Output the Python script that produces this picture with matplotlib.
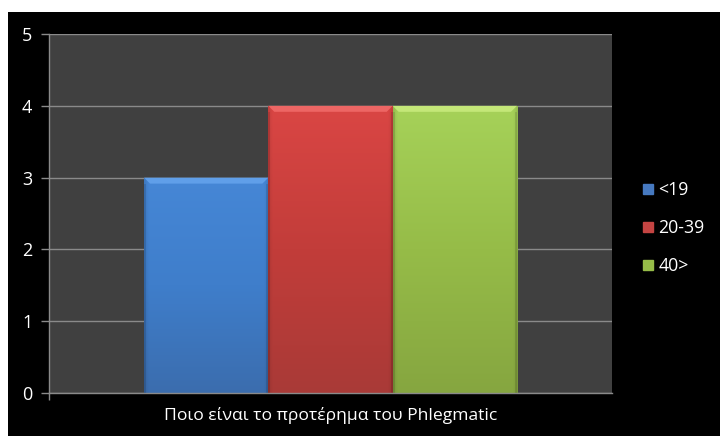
import numpy as np
import matplotlib
matplotlib.use("Agg")
import matplotlib.pyplot as plt
from matplotlib.patches import Rectangle, Polygon
from matplotlib.lines import Line2D
from matplotlib.colors import to_rgb

# ---- data ----
category = "Ποιο είναι το προτέρημα του Phlegmatic"
series_names = ["<19", "20-39", "40>"]
series_values = [3, 4, 4]
y_ticks = [0, 1, 2, 3, 4, 5]

# styles
top_colors = ["#4687d6", "#da4644", "#a6d259"]
mid_colors = ["#3f7ecb", "#c23d3a", "#96bc48"]
bot_colors = ["#3b6dae", "#a93a37", "#86a640"]
bevel_colors = ["#64a2ec", "#f06a68", "#c8ea7c"]
legend_colors = ["#4679c0", "#c44442", "#96bc48"]

plt.rcParams['font.family'] = ['Open Sans', 'DejaVu Sans']

W, H = 720, 436
fig = plt.figure(figsize=(W / 100, H / 100), dpi=100, facecolor="white")
fig.patches.append(Rectangle((8 / W, 0), 1 - 8 / W, (H - 12) / H,
                             transform=fig.transFigure, facecolor="black",
                             edgecolor="none", zorder=-10))

left, right, top, bottom = 49, 612, 34, 393
ax = fig.add_axes([left / W, (H - bottom) / H, (right - left) / W, (bottom - top) / H])
ax.set_zorder(1)
ax.set_facecolor("#404040")

n = len(series_values)
bw = 124.3 / (right - left)
offsets = (np.arange(n) - (n - 1) / 2) * bw

px_x = 1.0 / (right - left)
px_y = 5.0 / (bottom - top)

bars = ax.bar(offsets, series_values, width=bw, color=mid_colors, zorder=3,
              edgecolor="none")
for i, b in enumerate(bars):
    x0, y0 = b.get_x(), b.get_y()
    w, h = b.get_width(), b.get_height()
    t, m, bo = np.array(to_rgb(top_colors[i])), np.array(to_rgb(mid_colors[i])), np.array(to_rgb(bot_colors[i]))
    ny = 200
    s = np.linspace(0, 1, ny)[:, None]  # 0 top -> 1 bottom
    col = np.where(s < 0.5, t + (m - t) * (s / 0.5), m + (bo - m) * ((s - 0.5) / 0.5))
    nx = 60
    xs = np.linspace(0, 1, nx)[None, :]
    edge = 1 - 0.10 * (np.clip(1 - np.minimum(xs, 1 - xs) / 0.025, 0, 1))
    img = col[:, None, :] * edge[:, :, None]
    im = ax.imshow(np.clip(img, 0, 1), extent=[x0, x0 + w, y0, y0 + h], aspect="auto",
                   zorder=3.1, interpolation="bilinear")
    im.set_clip_path(b)
    # bevel top band
    bv = 6
    poly = Polygon([(x0, y0 + h), (x0 + w, y0 + h),
                    (x0 + w - bv * px_x, y0 + h - bv * px_y),
                    (x0 + bv * px_x, y0 + h - bv * px_y)],
                   closed=True, facecolor=bevel_colors[i], edgecolor="none",
                   alpha=0.9, zorder=3.2)
    ax.add_patch(poly)
    # darker side bands
    for xa, xb in [(x0, x0 + 2 * px_x), (x0 + w - 2 * px_x, x0 + w)]:
        ax.add_patch(Rectangle((xa, y0), xb - xa, h - bv * px_y, facecolor="black",
                               alpha=0.10, edgecolor="none", zorder=3.2))

ax.set_xlim(-0.5, 0.5)
ax.set_ylim(0, 5)
ax.set_yticks(y_ticks)
ax.set_yticklabels([str(v) for v in y_ticks])
ax.yaxis.grid(True, color="#8a8a8a", linewidth=1.0, zorder=1)
ax.set_axisbelow(True)
ax.set_xticks([-0.5])
ax.set_xticklabels([""])
ax.tick_params(axis="y", colors="#8a8a8a", labelcolor="white", labelsize=13,
               length=6, width=1, pad=6)
ax.tick_params(axis="x", colors="#8a8a8a", length=5, width=1)
for sp in ["top", "right"]:
    ax.spines[sp].set_visible(False)
for sp in ["left", "bottom"]:
    ax.spines[sp].set_color("#8a8a8a")
    ax.spines[sp].set_linewidth(1)
    ax.spines[sp].set_zorder(4)

fig.text(((left + right) / 2) / W, 1 - 415 / H, category, color="white",
         fontsize=12.6, ha="center", va="center")

handles = [Line2D([], [], marker="s", linestyle="none", markersize=7.5,
                  markerfacecolor=c, markeredgecolor=c) for c in legend_colors]
leg = fig.legend(handles, series_names, loc="upper left",
                 bbox_to_anchor=(636 / W, 1 - 174 / H), frameon=False,
                 labelcolor="white", fontsize=12.8, handlelength=0.6,
                 handletextpad=0.25, labelspacing=1.12, borderaxespad=0)

fig.savefig("out.png", dpi=100, facecolor=fig.get_facecolor())
